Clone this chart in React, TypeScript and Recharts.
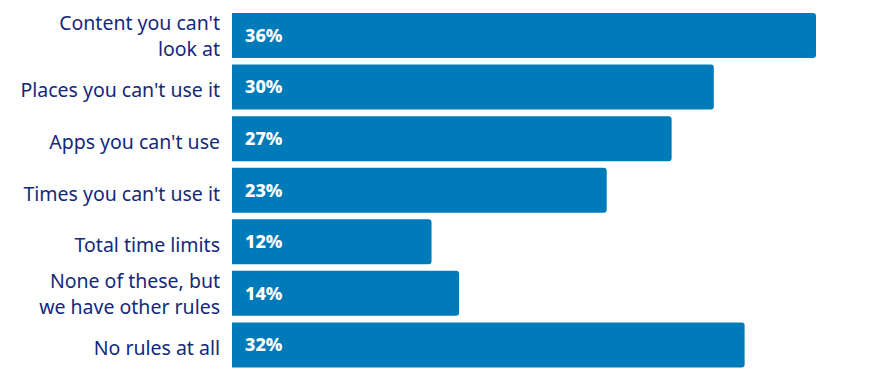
import { BarChart, Bar, XAxis, YAxis, LabelList } from "recharts"

const categories = [
  "Content you can't\nlook at",
  "Places you can't use it",
  "Apps you can't use",
  "Times you can't use it",
  "Total time limits",
  "None of these, but\nwe have other rules",
  "No rules at all",
]
// bar lengths; labels show the rounded figure
const shares = [36, 29.7, 27.1, 23.1, 12.3, 14, 31.6]

const data = categories.map((name, i) => ({ name, value: shares[i] }))

const NAVY = "#12297a"
const BLUE = "#007bba"

function RuleTick(props: any) {
  const { x, y, payload } = props
  const lines = String(payload.value).split("\n")
  const lh = 26.5
  const first = lines.length > 1 ? -6 : 10
  return (
    <text x={x + 6} y={y} textAnchor="end" fill={NAVY} fontSize={19.5} fontFamily="'Noto Sans', sans-serif">
      {lines.map((l, i) => (
        <tspan key={i} x={x + 6} dy={i === 0 ? first : lh}>
          {l}
        </tspan>
      ))}
    </text>
  )
}

export default function App() {
  return (
    <div style={{ position: "absolute", left: 0, top: 0, background: "#fff" }}>
      <BarChart
        width={880}
        height={381}
        data={data}
        layout="vertical"
        margin={{ top: 10, right: 64, bottom: 10, left: 0 }}
        barCategoryGap={6}
      >
        <XAxis type="number" domain={[0, 36]} hide />
        <YAxis
          type="category"
          dataKey="name"
          width={232}
          axisLine={false}
          tickLine={false}
          tickMargin={12}
          interval={0}
          tick={<RuleTick />}
        />
        <Bar dataKey="value" fill={BLUE} barSize={45} radius={[0, 3, 3, 0]} isAnimationActive={false}>
          <LabelList
            dataKey="value"
            position="insideLeft"
            offset={13}
            fill="#fff"
            fontSize={18}
            fontWeight={800}
            fontFamily="'Noto Sans', sans-serif"
            formatter={(v: any) => `${Math.round(Number(v))}%`}
          />
        </Bar>
      </BarChart>
    </div>
  )
}
